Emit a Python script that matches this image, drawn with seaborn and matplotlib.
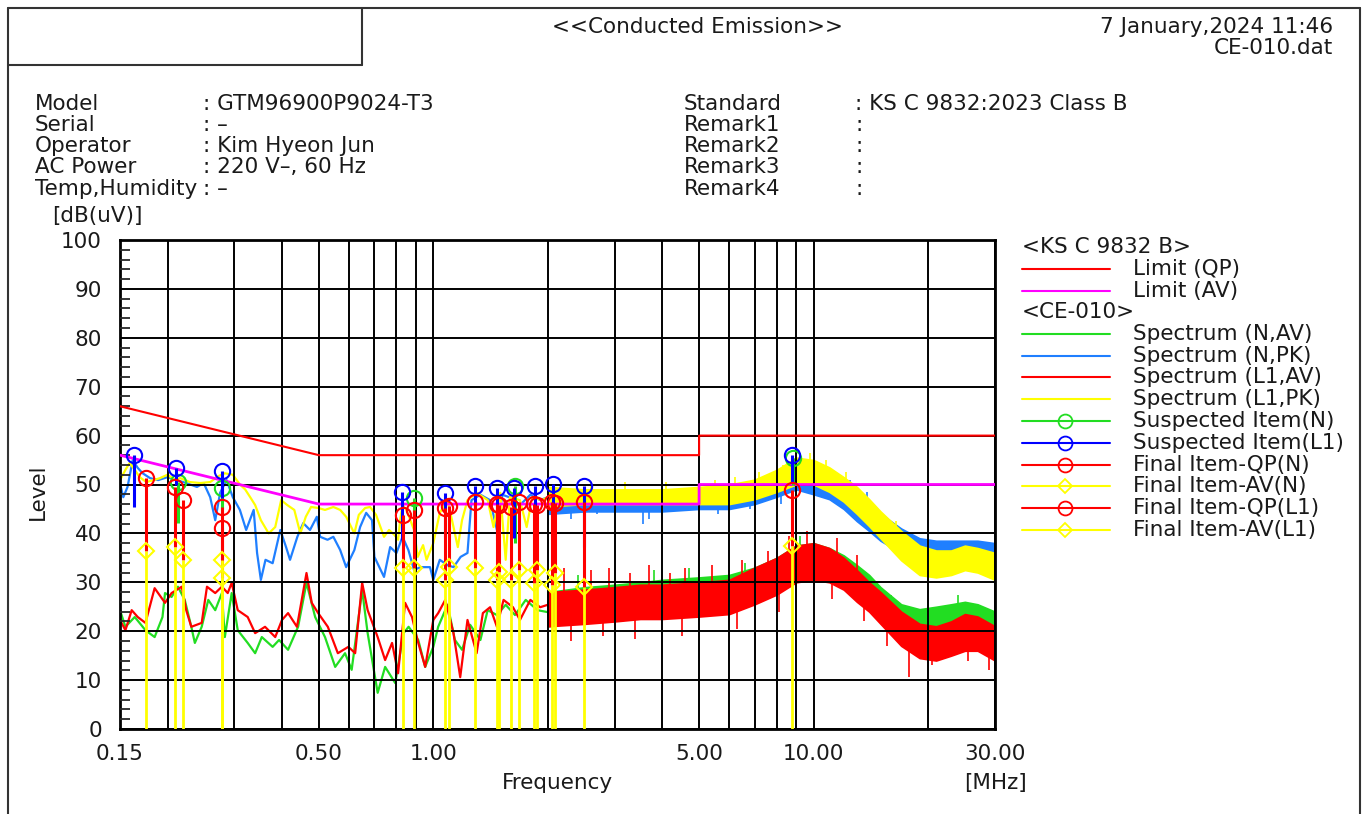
import numpy as np
import matplotlib
matplotlib.use("Agg")
import matplotlib.pyplot as plt
from matplotlib.lines import Line2D
from matplotlib.ticker import FixedLocator, MultipleLocator, NullFormatter
import seaborn as sns

# ---- limit lines (KS C 9832 class B) ----
lim_f = [0.15, 0.5, 5.0, 5.0, 30.0]
lim_qp = [66, 56, 56, 60, 60]
lim_av = [56, 46, 46, 50, 50]

# ---- spectra below 2 MHz ----
n_av_f = [0.15, 0.155, 0.164, 0.175, 0.185, 0.194, 0.197, 0.205, 0.213, 0.222, 0.231, 0.236,
          0.246, 0.256, 0.267, 0.278, 0.283, 0.295, 0.306, 0.325, 0.34, 0.354, 0.378, 0.393,
          0.415, 0.441, 0.464, 0.489, 0.519, 0.552, 0.586, 0.61, 0.65, 0.672, 0.714, 0.747,
          0.794, 0.835, 0.861, 0.913, 0.952, 1.0, 1.03, 1.09, 1.14, 1.19, 1.25, 1.33, 1.39,
          1.47, 1.55, 1.64, 1.75, 1.88, 2.0]
n_av_lv = [24.3, 20.9, 22.9, 20.2, 18.8, 22.9, 27.8, 27.0, 29.1, 26.4, 20.9, 17.6,
           20.9, 26.4, 24.3, 27.8, 18.8, 27.8, 20.2, 17.6, 15.5, 18.8, 16.8, 18.2,
           16.2, 20.9, 29.9, 22.9, 18.8, 12.7, 15.5, 12.1, 28.4, 19.6, 7.4, 12.7,
           9.4, 19.6, 20.9, 18.2, 12.7, 16.8, 20.9, 25.4, 18.2, 16.2, 21.3, 18.2, 24.3,
           23.3, 25.4, 23.3, 26.4, 24.3, 23.9]

n_pk_f = [0.15, 0.153, 0.157, 0.162, 0.167, 0.172, 0.18, 0.189, 0.2, 0.211, 0.224, 0.239,
          0.249, 0.259, 0.267, 0.275, 0.286, 0.297, 0.31, 0.322, 0.337, 0.344, 0.352, 0.362,
          0.378, 0.396, 0.41, 0.42, 0.439, 0.455, 0.474, 0.494, 0.504, 0.527, 0.546, 0.569,
          0.59, 0.62, 0.642, 0.666, 0.69, 0.70, 0.742, 0.77, 0.80, 0.83, 0.86, 0.89, 0.924,
          0.98, 1.0, 1.04, 1.09, 1.13, 1.18, 1.23, 1.26, 1.33, 1.41, 1.47, 1.52, 1.61, 1.69,
          1.80, 1.91, 2.0]
n_pk_lv = [50.3, 47.4, 49.5, 55.0, 53.4, 52.3, 51.3, 50.9, 51.5, 50.9, 50.3, 49.5,
           50.3, 47.4, 42.7, 48.3, 50.9, 47.4, 44.8, 40.7, 44.8, 36.0, 30.5, 34.6,
           33.9, 40.7, 37.2, 34.6, 39.3, 42.1, 40.7, 43.4, 39.3, 38.7, 39.3, 36.6,
           33.1, 36.6, 41.3, 44.2, 42.7, 35.2, 31.1, 37.2, 36.0, 39.3, 36.6, 32.5, 33.1,
           33.1, 30.5, 34.6, 33.5, 33.1, 35.2, 36.0, 46.8, 47.9, 46.8, 40.7, 47.9, 47.2, 45.8,
           47.9, 46.8, 47.4]

l1_av_f = [0.15, 0.155, 0.161, 0.167, 0.175, 0.185, 0.197, 0.205, 0.218, 0.224, 0.231, 0.246,
           0.254, 0.267, 0.278, 0.288, 0.295, 0.306, 0.325, 0.34, 0.361, 0.384, 0.40, 0.415,
           0.438, 0.464, 0.479, 0.498, 0.528, 0.561, 0.598, 0.623, 0.65, 0.672, 0.714, 0.747,
           0.779, 0.808, 0.843, 0.879, 0.913, 0.952, 1.0, 1.03, 1.075, 1.13, 1.177, 1.23, 1.30,
           1.35, 1.41, 1.47, 1.53, 1.62, 1.69, 1.80, 1.91, 2.0]
l1_av_lv = [22.3, 20.2, 24.3, 22.9, 21.7, 28.8, 25.8, 27.8, 29.1, 24.3, 20.9, 21.7,
            29.1, 27.8, 29.1, 27.8, 29.9, 24.3, 22.9, 19.6, 20.9, 18.8, 22.3, 23.7,
            20.9, 31.9, 25.8, 23.7, 20.9, 15.5, 16.8, 15.5, 29.9, 24.3, 18.8, 14.1,
            17.6, 11.4, 25.8, 22.9, 17.6, 12.7, 22.3, 23.7, 26.4, 19.6, 10.6, 22.3, 15.5,
            23.7, 24.9, 20.9, 26.4, 24.9, 22.3, 26.4, 24.9, 25.4]

l1_pk_f = [0.15, 0.155, 0.159, 0.164, 0.169, 0.176, 0.184, 0.191, 0.2, 0.209, 0.216, 0.229,
           0.244, 0.259, 0.272, 0.283, 0.297, 0.31, 0.32, 0.33, 0.34, 0.352, 0.369, 0.384,
           0.398, 0.413, 0.431, 0.447, 0.462, 0.477, 0.498, 0.519, 0.546, 0.569, 0.59, 0.62,
           0.637, 0.662, 0.682, 0.707, 0.742, 0.765, 0.79, 0.808, 0.818, 0.83, 0.85, 0.89,
           0.91, 0.94, 0.96, 1.0, 1.04, 1.09, 1.12, 1.16, 1.19, 1.23, 1.30, 1.39, 1.44, 1.50,
           1.55, 1.59, 1.69, 1.76, 1.82, 1.93, 2.0]
l1_pk_lv = [50.9, 53.0, 54.4, 53.0, 51.5, 50.5, 50.9, 51.3, 52.0, 51.0, 51.3, 50.5,
            50.3, 50.5, 51.7, 52.3, 52.0, 50.0, 49.0, 47.4, 45.8, 42.7, 40.0, 41.3,
            46.8, 45.8, 44.8, 40.0, 43.4, 45.4, 45.2, 44.8, 45.4, 44.8, 43.4, 40.0,
            43.8, 45.2, 45.4, 43.8, 39.3, 40.7, 39.7, 38.7, 42.7, 45.8, 44.8, 40.7,
            35.2, 37.6, 34.6, 38.0, 44.2, 46.8, 42.7, 37.2, 42.7, 46.8, 48.3, 46.8, 41.3, 48.3,
            34.6, 47.4, 46.8, 41.3, 47.4, 46.8, 47.4]

# ---- spectra above 2 MHz: dense noise, read as lower / upper edge of the band ----
band_f = [2.0, 2.5, 3.0, 3.5, 4.0, 5.0, 6.0, 7.0, 8.0, 9.0, 10.0, 11.0, 12.0, 13.0, 14.0,
          15.0, 17.0, 19.0, 21.0, 23.0, 25.0, 27.0, 30.0]
n_av_lo = [21, 22, 22.5, 23, 23, 23.5, 24, 26, 28, 30.5, 31, 30.5, 29, 27, 25, 23, 20.5, 20, 20.5, 21, 21.5, 21.5, 20.5]
n_av_hi = [28, 29, 29.5, 30, 30.5, 31, 31.5, 33, 35, 37.5, 38, 37, 35.5, 33.5, 31.5, 29, 25.5, 24.5, 25, 25.5, 26, 25.5, 24]
n_pk_lo = [44, 44.5, 44.5, 44.5, 44.5, 45, 45, 46, 47.5, 49, 48, 47, 45, 42.5, 40.5, 38.5, 36, 35, 35, 35, 35, 34.5, 34]
n_pk_hi = [49, 49, 48.5, 48.5, 48.5, 49, 49.5, 50.5, 52, 54, 53.5, 52, 50, 48, 46, 44, 41, 39, 38.5, 38.5, 38.5, 38.5, 38]
l1_av_lo = [21, 21.5, 22, 22.5, 22.5, 23, 23.5, 25.5, 27.5, 30, 30.5, 30, 28.5, 26, 24, 21.5, 17, 14.5, 14, 15, 16, 16, 14]
l1_av_hi = [28, 28.5, 29, 29.5, 29.5, 30, 30.5, 33, 35, 37.5, 38, 37, 35, 32.5, 30, 28, 24, 21.5, 21, 22, 23.5, 23, 21]
l1_pk_lo = [45.5, 46, 46, 46, 46, 46, 46, 47, 48.5, 50, 50, 48.5, 46.5, 44, 41.5, 39, 34.5, 31.5, 31, 31.5, 32.5, 32, 30.5]
l1_pk_hi = [49.5, 49, 49, 49, 49, 49.5, 50, 51, 53, 55.5, 55, 53.5, 51.5, 49.5, 47, 44.5, 40.5, 37.5, 36.5, 36.5, 37.5, 37, 36]

# single noise spikes standing out of the bands
n_av_spk_f = [2.4, 3.8, 4.7, 6.6, 9.2, 16.0, 24.0]
n_av_spk_lv = [31.5, 32.5, 33.0, 34.0, 39.5, 27.5, 27.5]
n_pk_spk_f = [2.3, 2.7, 3.55, 3.7, 4.4, 5.6, 6.8, 8.2, 12.5, 13.8]
n_pk_spk_lv = [43.0, 44.0, 42.0, 43.0, 44.5, 44.0, 45.0, 46.0, 51.0, 48.5]
l1_av_spk_f = [2.2, 2.3, 2.6, 2.8, 2.9, 3.3, 3.4, 3.7, 4.2, 4.5, 4.6, 5.4, 6.3, 6.5, 7.6, 8.1,
               8.6, 9.6, 11.2, 11.5, 13.0, 13.6, 15.6, 17.8, 20.5, 25.5, 29.0]
l1_av_spk_lv = [33.0, 18.0, 32.5, 19.0, 33.0, 32.0, 18.5, 33.5, 32.0, 19.0, 33.0, 33.5, 20.5, 34.5,
                36.5, 24.0, 39.5, 40.5, 26.5, 39.0, 35.5, 22.0, 17.0, 10.6, 13.0, 14.0, 12.0]
l1_pk_spk_f = [2.6, 3.2, 4.1, 5.5, 6.2, 7.2, 8.3, 9.8, 10.8, 12.2, 16.5]
l1_pk_spk_lv = [50.5, 50.5, 50.5, 51.0, 51.5, 52.5, 54.0, 56.5, 55.0, 52.5, 42.5]

# ---- markers ----
susp_n_f = [0.213, 0.279, 0.887, 1.64, 8.85]
susp_n_lv = [50.5, 49.2, 47.2, 49.6, 55.4]
susp_n_base = [42.1, 44.0, 36.6, 38.0, 50.0]
susp_l1_f = [0.163, 0.211, 0.279, 0.827, 1.075, 1.29, 1.47, 1.63, 1.855, 2.07, 2.49, 8.75]
susp_l1_lv = [56.0, 53.3, 52.8, 48.5, 48.2, 49.6, 49.2, 49.2, 49.6, 50.2, 49.6, 56.0]
susp_l1_base = [45.5, 50.0, 47.2, 38.7, 39.0, 39.0, 38.7, 39.0, 39.3, 37.5, 37.3, 50.3]

fin_n_f = [0.209, 0.220, 0.279, 0.89, 1.10, 1.49, 1.68, 1.87, 2.09]
fin_n_qp = [49.5, 46.8, 41.2, 44.8, 45.6, 45.8, 46.5, 45.8, 46.3]
fin_n_av = [37.3, 34.6, 30.8, 32.9, 33.2, 32.2, 32.5, 32.5, 31.8]
fin_l1_f = [0.176, 0.279, 0.83, 1.075, 1.29, 1.47, 1.60, 1.84, 2.05, 2.49, 8.8]
fin_l1_qp = [51.3, 45.5, 43.8, 45.1, 46.5, 46.1, 45.5, 46.1, 46.5, 46.5, 48.9]
fin_l1_av = [36.3, 34.6, 32.9, 30.5, 32.9, 30.5, 30.5, 29.9, 29.4, 29.1, 37.4]

x_ticks = [0.15, 0.5, 1.0, 5.0, 10.0, 30.0]
x_ticklabels = ["0.15", "0.50", "1.00", "5.00", "10.00", "30.00"]
x_grid = [0.2, 0.3, 0.4, 0.6, 0.7, 0.8, 0.9, 2, 3, 4, 6, 7, 8, 9, 20]

GREEN = "#22dd22"
BLUE_SP = "#1f7fff"
RED = "#ff0000"
YELLOW = "#ffff00"
MAGENTA = "#ff00ff"
BLUE = "#0000ff"
TXT = "#1a1a1a"

sns.set_style("white")
plt.rcParams['font.family'] = ['DejaVu Sans']
FS = 15.5

W, H = 1369, 814
fig = plt.figure(figsize=(W / 100, H / 100), dpi=100)


def fx(px):
    return px / W


def fy(py):
    return 1 - py / H


ax = fig.add_axes([fx(120), fy(729), fx(995) - fx(120), fy(240) - fy(729)])
ax.set_xscale("log")


def trace(f, lv, color, lw=1.6, z=2):
    sns.lineplot(x=f, y=lv, ax=ax, color=color, lw=lw, estimator=None, sort=False,
                 legend=False, zorder=z)


def band(lo, hi, spk_f, spk_lv, color, z):
    ax.fill_between(band_f, lo, hi, color=color, lw=1.2, zorder=z)
    mid = np.interp(np.log(spk_f), np.log(band_f), (np.array(lo) + np.array(hi)) / 2)
    ax.vlines(spk_f, mid, spk_lv, colors=color, lw=1.2, zorder=z)


# spectra in legend order
trace(n_av_f, n_av_lv, GREEN, z=2)
band(n_av_lo, n_av_hi, n_av_spk_f, n_av_spk_lv, GREEN, 2)
trace(n_pk_f, n_pk_lv, BLUE_SP, z=2.1)
band(n_pk_lo, n_pk_hi, n_pk_spk_f, n_pk_spk_lv, BLUE_SP, 2.1)
trace(l1_av_f, l1_av_lv, RED, z=2.2)
band(l1_av_lo, l1_av_hi, l1_av_spk_f, l1_av_spk_lv, RED, 2.2)
trace(l1_pk_f, l1_pk_lv, YELLOW, z=2.3)
band(l1_pk_lo, l1_pk_hi, l1_pk_spk_f, l1_pk_spk_lv, YELLOW, 2.3)

# limits
trace(lim_f, lim_qp, RED, lw=1.5, z=3)
trace(lim_f, lim_av, MAGENTA, lw=2, z=3)

# markers with stems
ax.vlines(susp_n_f, susp_n_base, susp_n_lv, colors=GREEN, lw=2.2, zorder=4)
ax.plot(susp_n_f, susp_n_lv, "o", mfc="none", mec=GREEN, ms=11, mew=1.5, zorder=4)
ax.vlines(susp_l1_f, susp_l1_base, susp_l1_lv, colors=BLUE, lw=2.2, zorder=4.1)
ax.plot(susp_l1_f, susp_l1_lv, "o", mfc="none", mec=BLUE, ms=11, mew=1.5, zorder=4.1)
for f, qp, av in ((fin_n_f, fin_n_qp, fin_n_av), (fin_l1_f, fin_l1_qp, fin_l1_av)):
    ax.vlines(f, av, qp, colors=RED, lw=2.2, zorder=4.2)
    ax.vlines(f, 0, av, colors=YELLOW, lw=2, zorder=4.3)
    ax.plot(f, qp, "o", mfc="none", mec=RED, ms=11, mew=1.5, zorder=4.4)
    ax.plot(f, av, "D", mfc="none", mec=YELLOW, ms=8, mew=1.5, zorder=4.4)

# axes
ax.set_xlim(0.15, 30)
ax.set_ylim(0, 100)
ax.set_xticks(x_ticks)
ax.set_xticklabels(x_ticklabels)
ax.xaxis.set_minor_locator(FixedLocator(x_grid))
ax.xaxis.set_minor_formatter(NullFormatter())
ax.set_yticks(range(0, 101, 10))
ax.yaxis.set_minor_locator(MultipleLocator(2))
ax.tick_params(axis="x", which="both", length=0, labelsize=FS, pad=11, labelcolor=TXT)
ax.tick_params(axis="y", which="major", length=0, labelsize=FS, pad=13, labelcolor=TXT)
ax.tick_params(axis="y", which="minor", direction="in", length=7, width=1.3, left=True, right=False)
ax.grid(True, which="both", axis="x", color="black", lw=1.4)
ax.grid(True, which="major", axis="y", color="black", lw=1.4)
ax.set_axisbelow(False)
for s in ax.spines.values():
    s.set_color("black")
    s.set_linewidth(2)
ax.set_xlabel("")
ax.set_ylabel("")

fig.text(fx(557), fy(783), "Frequency", ha="center", va="center", fontsize=FS, color=TXT)
fig.text(fx(995), fy(783), "[MHz]", ha="center", va="center", fontsize=FS, color=TXT)
fig.text(fx(38), fy(492), "Level", ha="center", va="center", rotation=90, fontsize=FS, color=TXT)
fig.text(fx(97), fy(216), "[dB(uV)]", ha="center", va="center", fontsize=FS, color=TXT)

# frame and title box
for xs, ys in (([8, 1360], [8, 8]), ([8, 8], [8, 814]), ([1360, 1360], [8, 814]),
               ([8, 362], [65, 65]), ([362, 362], [8, 65])):
    fig.add_artist(Line2D([fx(v) for v in xs], [fy(v) for v in ys], color="#333333", lw=1.5))

fig.text(fx(698), fy(27), "<<Conducted Emission>>", ha="center", va="center", fontsize=FS, color=TXT)
fig.text(fx(1333), fy(27), "7 January,2024 11:46", ha="right", va="center", fontsize=FS, color=TXT)
fig.text(fx(1333), fy(48), "CE-010.dat", ha="right", va="center", fontsize=FS, color=TXT)

info_left = ["Model", "Serial", "Operator", "AC Power", "Temp,Humidity"]
info_left_val = [": GTM96900P9024-T3", ": \u2013", ": Kim Hyeon Jun", ": 220 V\u2013, 60 Hz", ": \u2013"]
info_right = ["Standard", "Remark1", "Remark2", "Remark3", "Remark4"]
info_right_val = [": KS C 9832:2023 Class B", ":", ":", ":", ":"]
rows_y = [104, 125, 146, 167, 189]
for i, yy in enumerate(rows_y):
    fig.text(fx(35), fy(yy), info_left[i], va="center", fontsize=FS, color=TXT)
    fig.text(fx(203), fy(yy), info_left_val[i], va="center", fontsize=FS, color=TXT)
    fig.text(fx(684), fy(yy), info_right[i], va="center", fontsize=FS, color=TXT)
    fig.text(fx(855), fy(yy), info_right_val[i], va="center", fontsize=FS, color=TXT)

# legend drawn by hand
leg_rows = [
    ("<KS C 9832 B>", None, None),
    ("Limit (QP)", RED, None),
    ("Limit (AV)", MAGENTA, None),
    ("<CE-010>", None, None),
    ("Spectrum (N,AV)", GREEN, None),
    ("Spectrum (N,PK)", BLUE_SP, None),
    ("Spectrum (L1,AV)", RED, None),
    ("Spectrum (L1,PK)", YELLOW, None),
    ("Suspected Item(N)", GREEN, "o"),
    ("Suspected Item(L1)", BLUE, "o"),
    ("Final Item-QP(N)", RED, "o"),
    ("Final Item-AV(N)", YELLOW, "D"),
    ("Final Item-QP(L1)", RED, "o"),
    ("Final Item-AV(L1)", YELLOW, "D"),
]
for i, (lab, col, mk) in enumerate(leg_rows):
    yy = 247 + i * 21.75
    if col is None:
        fig.text(fx(1022), fy(yy), lab, va="center", fontsize=FS, color=TXT)
        continue
    fig.add_artist(Line2D([fx(1022), fx(1110)], [fy(yy), fy(yy)], color=col, lw=1.5))
    if mk:
        fig.add_artist(Line2D([fx(1065)], [fy(yy)], marker=mk, mfc="none", mec=col,
                              ms=10 if mk == "o" else 7.5, mew=1.3, lw=0))
    fig.text(fx(1133), fy(yy), lab, va="center", fontsize=FS, color=TXT)

fig.savefig("out.png", dpi=100)
